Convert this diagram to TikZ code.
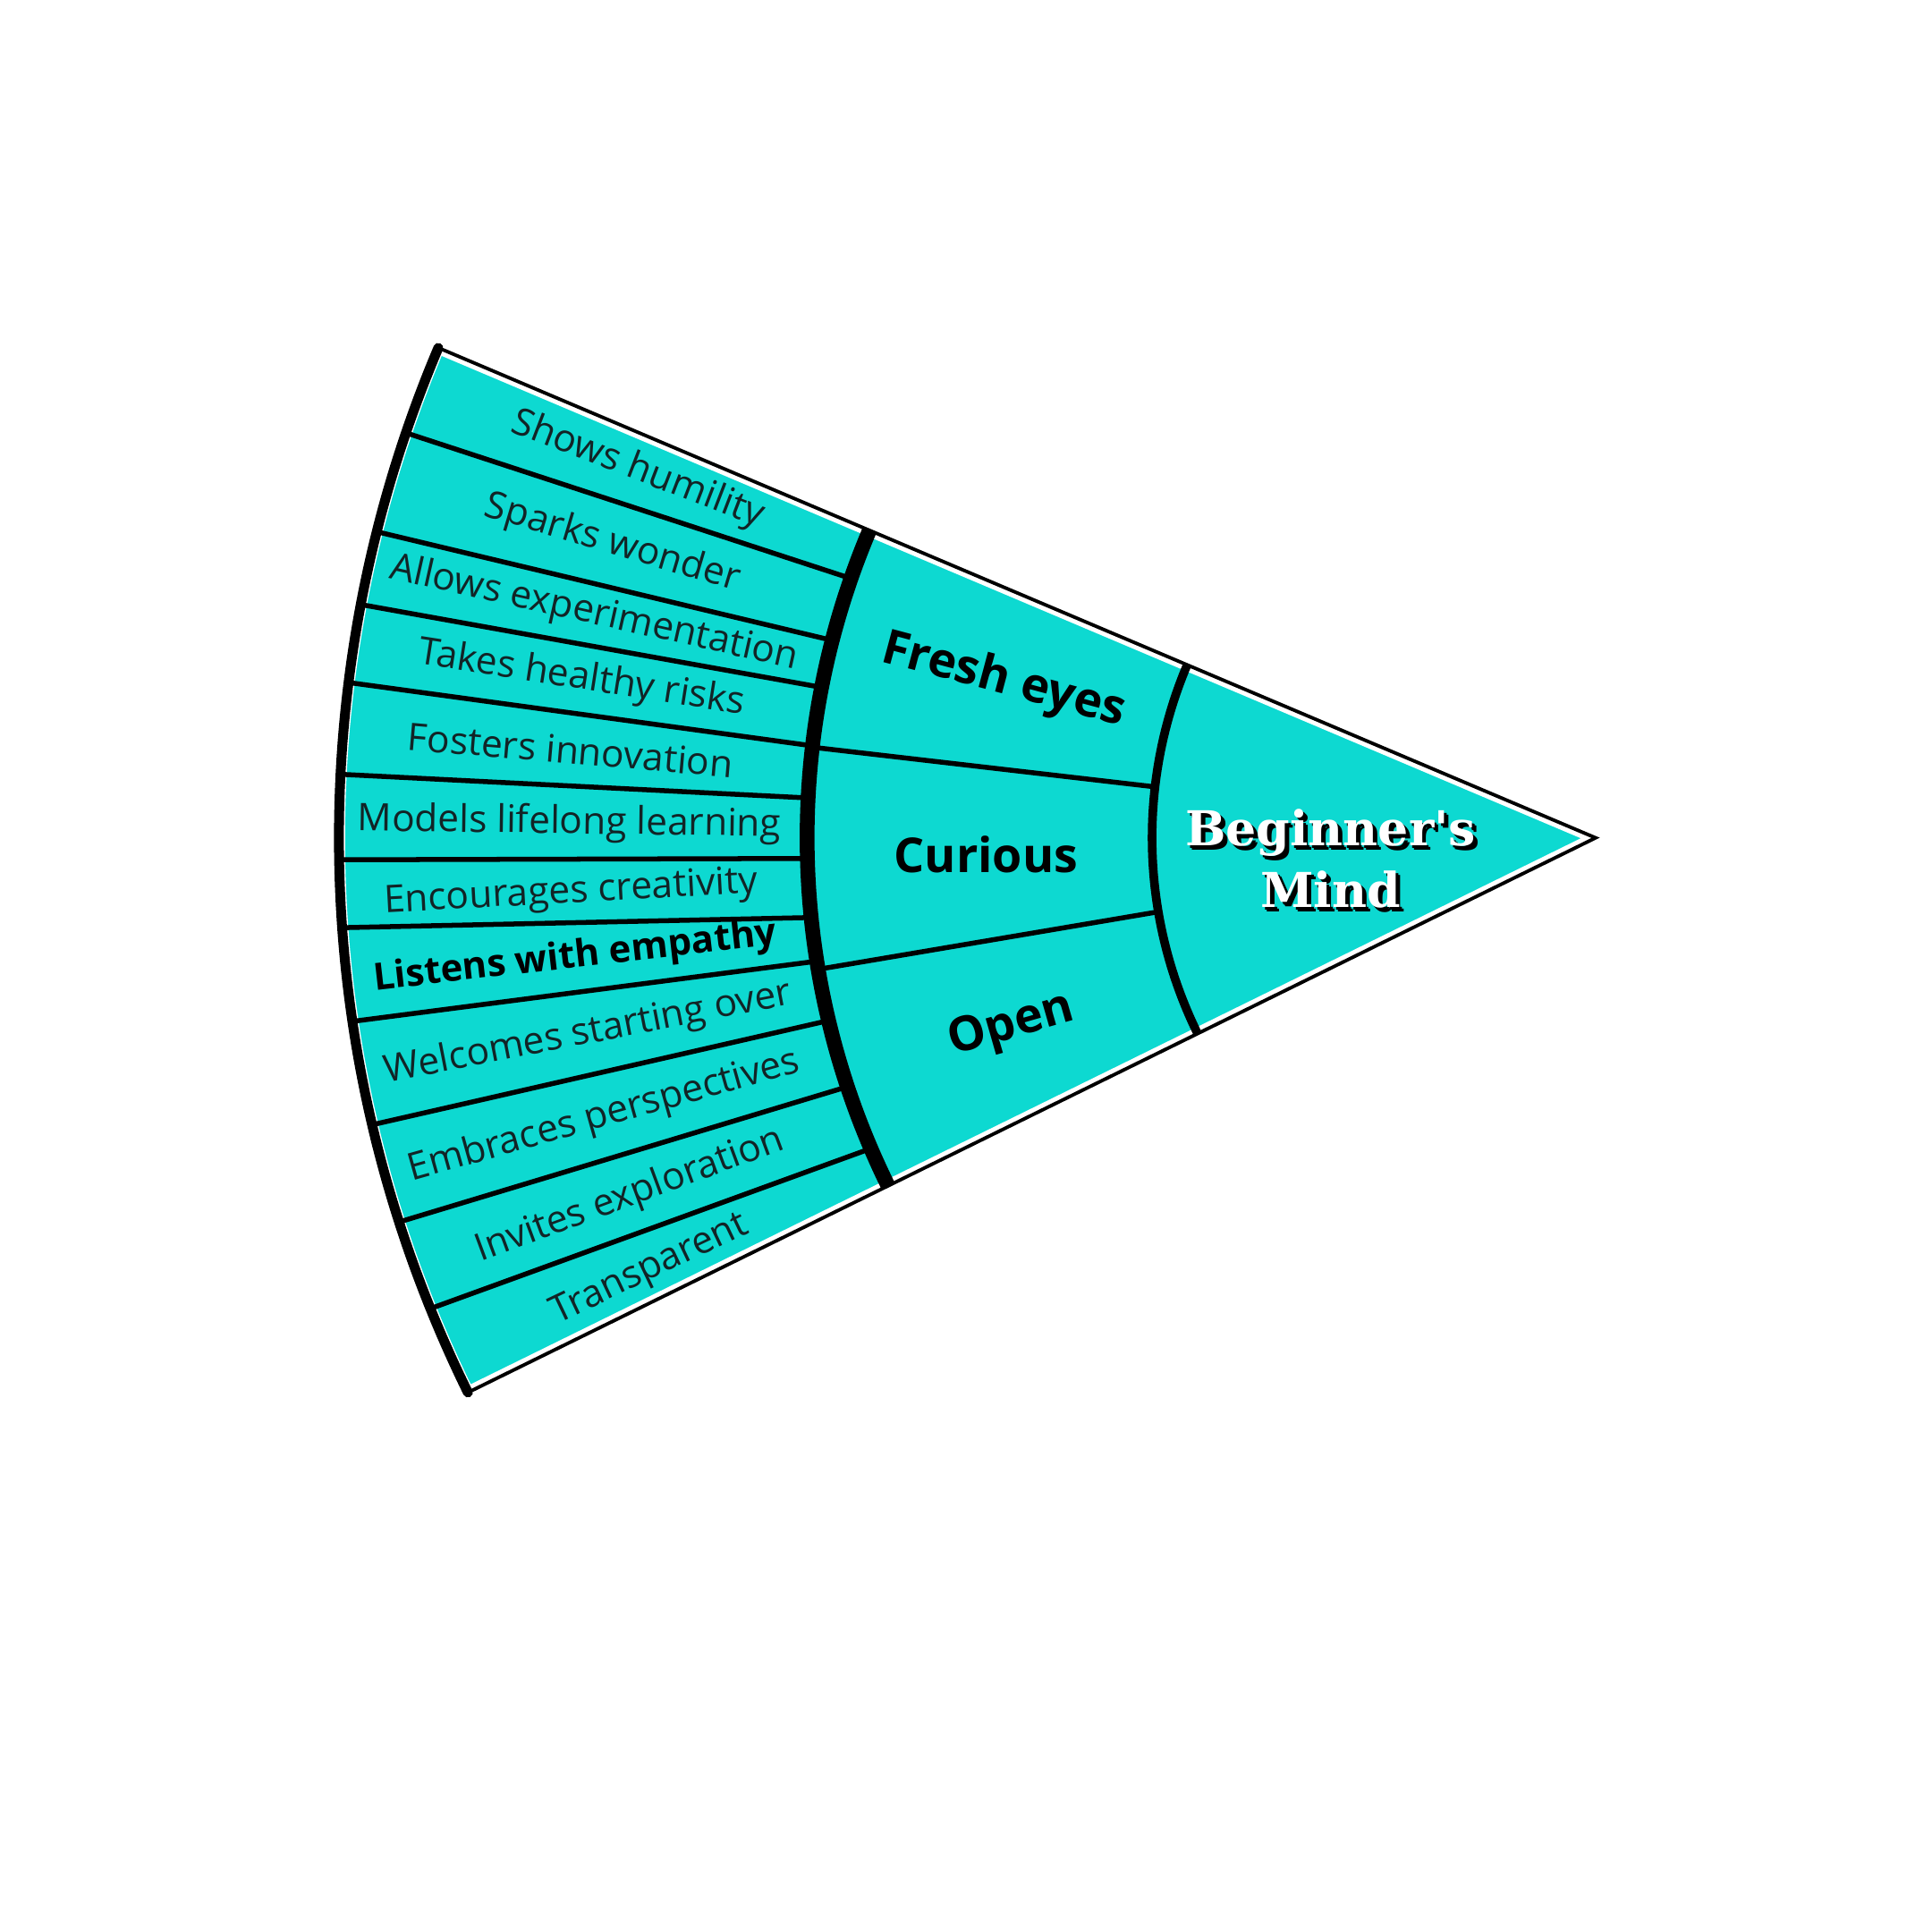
\documentclass[tikz,border=0pt]{standalone}
\usepackage{fontspec}
\setmainfont{Open Sans}
\newfontfamily\slabfont{DejaVu Serif}
\usetikzlibrary{calc}
\definecolor{fanfill}{RGB}{13,217,209}
\definecolor{inkdark}{RGB}{18,36,38}
\begin{document}
\begin{tikzpicture}[x=1pt,y=1pt,
  itemtext/.style={font=\fontsize{30.8}{36}\selectfont, text=inkdark, inner sep=0pt, anchor=center},
  boldtext/.style={font=\fontsize{30.5}{36}\selectfont\bfseries, text=black, inner sep=0pt, anchor=center},
  ringtext/.style={font=\fontsize{39}{46}\selectfont\bfseries, text=black, inner sep=0pt, anchor=center},
  coretext/.style={font=\slabfont\bfseries\fontsize{39}{50}\selectfont, align=center, inner sep=0pt, anchor=center},
  divider/.style={line width=4, line cap=round},
  ]
\useasboundingbox (0,0) rectangle (1568,1568);
\def\Ro{1020}
\def\Rm{640}
\def\Ri{360}
\def\At{157.05}
\def\Ab{206.19}
\coordinate (A) at (1295,888);
\coordinate (TL) at ($(A)+(\At:\Ro)$);
\coordinate (BL) at ($(A)+(\Ab:\Ro)$);
\coordinate (TM) at ($(A)+(\At:\Rm)$);
\coordinate (TI) at ($(A)+(\At:\Ri)$);
% fill
\fill[fanfill] (A) -- (TL) arc[start angle=\At, end angle=\Ab, radius=\Ro] -- cycle;
\draw[white, line width=10, line join=round] (A) -- (TL) arc[start angle=\At, end angle=\Ab, radius=\Ro] -- cycle;
% straight edges
\draw[line width=2.8, line join=miter] (TL) -- (A) -- (BL);
% outer arc
\draw[line width=8, line cap=round] (TL) arc[start angle=\At, end angle=\Ab, radius=\Ro];
% dividers of outer ring
\foreach \l/\r [count=\i] in {161.2/160.8, 165.9/165.5, 169.3/169.0, 172.9/173.3, 177.1/177.1, 181.0/181.5, 184.1/185.8, 188.4/189.0, 193.2/193.4, 197.8/198.4, 202.0/203.2}{
  \coordinate (dl\i) at ($(A)+(\l:\Ro)$);
  \coordinate (dr\i) at ($(A)+(\r:\Rm)$);
  \draw[divider] (dl\i) -- (dr\i);
}
% middle ring dividers
\coordinate (m1a) at ($(A)+(173.4:\Ri)$);
\coordinate (m1b) at ($(A)+(173.4:\Rm)$);
\coordinate (m2a) at ($(A)+(189.6:\Ri)$);
\coordinate (m2b) at ($(A)+(189.6:\Rm)$);
\draw[divider] (m1a) -- (m1b);
\draw[divider] (m2a) -- (m2b);
% middle thick arc
\draw[line width=12] (TM) arc[start angle=\At, end angle=\Ab, radius=\Rm];
% inner arc
\draw[line width=7] (TI) arc[start angle=\At, end angle=\Ab, radius=\Ri];
% outer ring labels
\foreach \a/\rr/\rot/\t [count=\i] in {159.0/833/-21/Shows humility, 163.35/833/-16.6/Sparks wonder, 167.4/833/-12.6/Allows experimentation, 171.1/833/-8.9/Takes healthy risks, 175.1/835/-4.9/Fosters innovation, 179.2/833/-0.8/Models lifelong learning, 183.1/833/3.1/Encourages creativity, 191.0/833/11/Welcomes starting over, 195.7/836/15.7/Embraces perspectives, 200.35/836/20.35/Invites exploration, 204.56/844/25.5/Transparent}{
  \node[itemtext, rotate=\rot] (item\i) at ($(A)+(\a:\rr)$) {\t};
}
\node[boldtext, rotate=6.5] (itemL) at ($(A)+(186.7:834)$) {Listens with empathy};
% middle ring labels
\node[ringtext, rotate=-15] (fresh) at ($(A)+(165.2:497)$) {Fresh eyes};
\node[ringtext, rotate=0] (curious) at ($(A)+(181.6:495)$) {Curious};
\node[ringtext, rotate=16] (open) at ($(A)+(197.9:498)$) {Open};
% core label with shadow
\node[coretext, text=black] (coreshadowb) at (1083.5,867.5) {Beginner's\\Mind};
\node[coretext, text=black] (coreshadow) at (1082,869) {Beginner's\\Mind};
\node[coretext, text=white] (core) at (1080,871) {Beginner's\\Mind};
\end{tikzpicture}
\end{document}
